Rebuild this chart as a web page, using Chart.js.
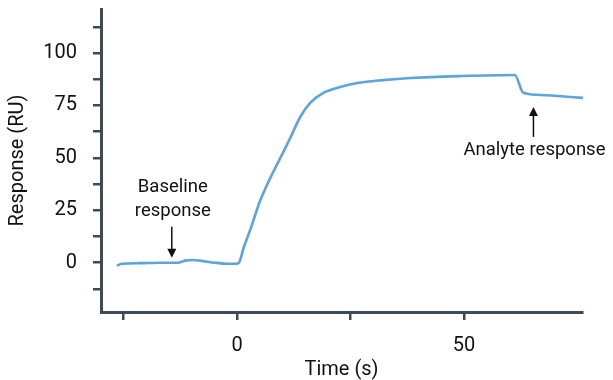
<!DOCTYPE html>
<html>
<head>
<meta charset="utf-8">
<script src="https://cdn.jsdelivr.net/npm/chart.js@4"></script>
<style>
  html, body { margin: 0; padding: 0; background: #fff; }
  #wrap { width: 613px; height: 380px; }
</style>
</head>
<body>
<div id="wrap"><canvas id="sensorgram"></canvas></div>
<script>
// time (s) and response (RU)
var timeVals = [-26.5, -25.4, -21.4, -17, -13, -11.5, -9.9, -8.2, -4.9, -2, -0.2, 0.4,
                1.5, 3.1, 4.9, 7.1, 10.2, 11.7, 13.9, 16.1, 19, 22.7, 26.5, 32.2, 38.2,
                49.2, 61.2, 62.9, 64.2, 70, 76.2];
var respVals = [-1.4, -0.5, -0.2, 0, 0, 1.0, 1.3, 1.0, 0, -0.5, -0.5, 0,
                7.6, 17, 28.6, 39.5, 52.9, 59.5, 69.5, 76.2, 81, 83.8, 85.7, 87.1, 88.1,
                89, 89.5, 81.4, 80.5, 79.6, 78.6];

var xTicks = [-25, 0, 25, 50];
var xLabels = [0, 50];
var yTicks = [-12.5, 0, 12.5, 25, 37.5, 50, 62.5, 75, 87.5, 100, 112.5];
var yLabels = [0, 25, 50, 75, 100];

var notes = [
  { lines: ["Baseline", "response"], x: -14.4, textY: [35.7, 24.3], arrow: [17.1, 2.4] },
  { lines: ["Analyte response"], x: 65.3, textY: [53.8], arrow: [60, 74.3] }
];

var axisColor = '#3e4b57';
var fontFam = 'Roboto, "Noto Sans", sans-serif';

var points = timeVals.map(function(t, i) { return { x: t, y: respVals[i] }; });

var notesPlugin = {
  id: 'notes',
  afterDatasetsDraw: function(chart) {
    var c = chart.ctx, xs = chart.scales.x, ys = chart.scales.y;
    c.save();
    c.fillStyle = '#111';
    c.strokeStyle = '#111';
    c.font = '18.5px ' + fontFam;
    c.textAlign = 'center';
    c.textBaseline = 'middle';
    notes.forEach(function(n) {
      var px = xs.getPixelForValue(n.x);
      n.lines.forEach(function(s, k) {
        c.fillText(s, px + 1, ys.getPixelForValue(n.textY[k]));
      });
      var y0 = ys.getPixelForValue(n.arrow[0]);
      var y1 = ys.getPixelForValue(n.arrow[1]);
      var dir = y1 > y0 ? 1 : -1;
      c.lineWidth = 1.5;
      c.beginPath();
      c.moveTo(px, y0);
      c.lineTo(px, y1 - dir * 6);
      c.stroke();
      c.beginPath();
      c.moveTo(px, y1);
      c.lineTo(px - 4.5, y1 - dir * 9);
      c.lineTo(px + 4.5, y1 - dir * 9);
      c.closePath();
      c.fill();
    });
    c.restore();
  }
};

new Chart(document.getElementById('sensorgram'), {
  type: 'line',
  data: {
    datasets: [{
      data: points,
      borderColor: '#5ba4de',
      borderWidth: 2.6,
      pointRadius: 0,
      fill: false,
      cubicInterpolationMode: 'monotone',
      clip: false
    }]
  },
  options: {
    responsive: true,
    maintainAspectRatio: false,
    animation: false,
    layout: { padding: { top: 9, right: 31, left: 6, bottom: 0 } },
    plugins: { legend: { display: false }, tooltip: { enabled: false } },
    scales: {
      x: {
        type: 'linear',
        min: -30,
        max: 76,
        afterBuildTicks: function(s) { s.ticks = xTicks.map(function(v) { return { value: v }; }); },
        afterFit: function(s) { s.height = 68; s.paddingLeft = 0; s.paddingRight = 0; },
        ticks: {
          color: '#111',
          font: { size: 20, family: fontFam, lineHeight: 1 },
          padding: 16,
          autoSkip: false,
          maxRotation: 0,
          callback: function(v) { return xLabels.indexOf(v) >= 0 ? String(v) : ''; }
        },
        grid: { drawOnChartArea: false, drawTicks: true, tickLength: 8, color: axisColor, lineWidth: 2.5 },
        border: { display: true, color: axisColor, width: 3 },
        title: { display: true, text: 'Time (s)', color: '#111', font: { size: 20, family: fontFam }, padding: { top: 2, bottom: -2 } }
      },
      y: {
        min: -23.5,
        max: 121,
        afterBuildTicks: function(s) { s.ticks = yTicks.map(function(v) { return { value: v }; }); },
        afterFit: function(s) { s.width = 95; s.paddingTop = 0; s.paddingBottom = 0; },
        ticks: {
          color: '#111',
          font: { size: 20, family: fontFam, lineHeight: 1 },
          padding: 16,
          autoSkip: false,
          callback: function(v) { return yLabels.indexOf(v) >= 0 ? String(v) : ''; }
        },
        grid: { drawOnChartArea: false, drawTicks: true, tickLength: 8, color: axisColor, lineWidth: 2.5 },
        border: { display: true, color: axisColor, width: 3 },
        title: { display: true, text: 'Response (RU)', color: '#111', font: { size: 20, family: fontFam }, padding: { top: 0, bottom: 12 } }
      }
    }
  },
  plugins: [notesPlugin]
});
</script>
</body>
</html>
